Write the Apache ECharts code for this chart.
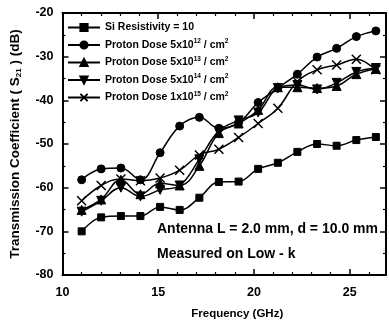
<!DOCTYPE html>
<html>
<head>
<meta charset="utf-8">
<script src="https://cdn.jsdelivr.net/npm/echarts@6/dist/echarts.min.js"></script>
<style>
  html, body { margin: 0; padding: 0; background: #fff; }
  #chart { width: 389px; height: 331px; }
</style>
</head>
<body>
<div id="chart"></div>
<script>
// frequency points (GHz)
const freq = [11.0, 12.02, 13.05, 14.07, 15.1, 16.12, 17.15, 18.17, 19.2, 20.22, 21.25, 22.27, 23.3, 24.32, 25.35, 26.37]

// S21 (dB)
const siRes = [-70.0, -66.8, -66.5, -66.5, -64.4, -65.1, -62.3, -58.7, -58.6, -55.7, -54.3, -51.8, -50.0, -50.4, -49.1, -48.4]
const dose5e12 = [-58.2, -55.7, -55.5, -58.2, -52.0, -45.9, -43.9, -46.4, -45.1, -40.5, -37.2, -34.0, -30.1, -28.1, -25.4, -24.1]
const dose5e13 = [-65.1, -62.7, -58.2, -61.5, -59.0, -59.5, -55.0, -47.5, -45.3, -42.2, -37.0, -37.0, -37.2, -36.7, -34.0, -32.8]
const dose5e14 = [-65.5, -63.0, -60.0, -62.0, -60.5, -59.5, -53.5, -47.0, -44.6, -42.8, -37.2, -36.5, -37.5, -36.0, -33.5, -32.6]
const dose1e15 = [-63.0, -59.5, -58.0, -58.4, -57.8, -56.0, -52.5, -51.2, -48.5, -45.3, -41.8, -35.7, -33.0, -31.9, -30.6, -33.0]

const seriesNames = ["Si Resistivity = 10", "Proton Dose 5x10^12", "Proton Dose 5x10^13", "Proton Dose 5x10^14", "Proton Dose 1x10^15"]
const legendLabels = [
  "{a|Si Resistivity = 10}",
  "{a|Proton Dose 5x10}{sup|12}{a| / cm}{sup|2}",
  "{a|Proton Dose 5x10}{sup|13}{a| / cm}{sup|2}",
  "{a|Proton Dose 5x10}{sup|14}{a| / cm}{sup|2}",
  "{a|Proton Dose 1x10}{sup|15}{a| / cm}{sup|2}",
]

const font = "'Liberation Sans', Arial, sans-serif"
const chart = echarts.init(document.getElementById("chart"))

const pair = (vals) => freq.map((f, i) => [f, vals[i]])

const lineSeries = (name, vals, symbol, size, extra) => ({
  name: name,
  type: "line",
  data: pair(vals),
  smooth: 0.4,
  symbol: symbol,
  symbolSize: size,
  showAllSymbol: true,
  lineStyle: { color: "#000", width: 1.5 },
  itemStyle: { color: "#000", borderColor: "#000", borderWidth: 1 },
  ...extra,
})

const axisCommon = {
  axisLine: { lineStyle: { color: "#000", width: 2 } },
  axisTick: { inside: true, length: 6, lineStyle: { color: "#000", width: 1.5 } },
  minorTick: { show: true, length: 3, lineStyle: { color: "#000", width: 1.2 } },
  splitLine: { show: false },
}

const option = {
  backgroundColor: "#fff",
  animation: false,
  grid: { left: 59, right: 0, top: 13, bottom: 56 },
  legend: {
    orient: "vertical",
    left: 62,
    top: 17,
    itemWidth: 32,
    itemHeight: 9,
    itemGap: 5,
    data: seriesNames,
    formatter: (name) => legendLabels[seriesNames.indexOf(name)],
    textStyle: {
      fontFamily: font,
      rich: {
        a: { fontFamily: font, fontWeight: "bold", fontSize: 10.5, color: "#000" },
        sup: { fontFamily: font, fontWeight: "bold", fontSize: 6.5, color: "#000", padding: [0, 0, 7, 0] },
      },
    },
  },
  xAxis: [
    {
      ...axisCommon,
      type: "value",
      min: 10,
      max: 26.9,
      interval: 5,
      minorTick: { ...axisCommon.minorTick, splitNumber: 5 },
      axisLabel: {
        color: "#000",
        fontFamily: font,
        fontWeight: "bold",
        fontSize: 12.5,
        margin: 11,
        formatter: (v) => (v % 5 === 0 ? String(v) : ""),
      },
      name: "Frequency (GHz)",
      nameLocation: "middle",
      nameGap: 33,
      nameTextStyle: { color: "#000", fontFamily: font, fontWeight: "bold", fontSize: 11.5, padding: [0, 0, 0, 26] },
    },
    {
      ...axisCommon,
      type: "value",
      position: "top",
      min: 10,
      max: 26.9,
      interval: 5,
      minorTick: { ...axisCommon.minorTick, splitNumber: 5 },
      axisLabel: { show: false },
    },
  ],
  yAxis: [
    {
      ...axisCommon,
      type: "value",
      min: -80,
      max: -20,
      interval: 10,
      minorTick: { ...axisCommon.minorTick, splitNumber: 2 },
      axisLabel: { color: "#000", fontFamily: font, fontWeight: "bold", fontSize: 12.5, margin: 9 },
      name: "{a|Transmission Coefficient ( S}{sub|21}{a| ) (dB)}",
      nameLocation: "middle",
      nameGap: 40,
      nameTextStyle: {
        rich: {
          a: { fontFamily: font, fontWeight: "bold", fontSize: 13.5, color: "#000" },
          sub: { fontFamily: font, fontWeight: "bold", fontSize: 8, color: "#000", padding: [7, 0, 0, 0] },
        },
      },
    },
    {
      ...axisCommon,
      type: "value",
      position: "right",
      min: -80,
      max: -20,
      interval: 10,
      minorTick: { ...axisCommon.minorTick, splitNumber: 2 },
      axisLabel: { show: false },
    },
  ],
  graphic: [
    {
      type: "text",
      left: 157,
      top: 222,
      style: { text: "Antenna L = 2.0 mm, d = 10.0 mm", fill: "#000", font: "bold 14px " + font },
    },
    {
      type: "text",
      left: 157,
      top: 247,
      style: { text: "Measured on Low - k", fill: "#000", font: "bold 14px " + font },
    },
  ],
  series: [
    lineSeries(seriesNames[0], siRes, "rect", 7),
    lineSeries(seriesNames[1], dose5e12, "circle", 8),
    lineSeries(seriesNames[2], dose5e13, "triangle", 9),
    lineSeries(seriesNames[3], dose5e14, "triangle", 9, { symbolRotate: 180 }),
    lineSeries(seriesNames[4], dose1e15, "path://M0,0L10,10M10,0L0,10", 9, {
      itemStyle: { color: "#000", borderColor: "#000", borderWidth: 1.5 },
    }),
  ],
}

chart.setOption(option)
</script>
</body>
</html>
